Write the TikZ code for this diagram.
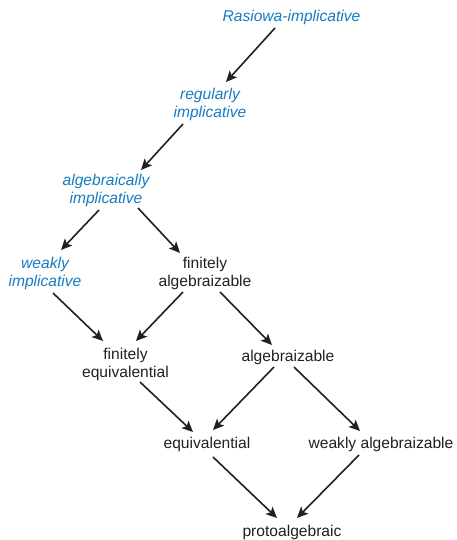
\documentclass[tikz,border=0pt]{standalone}
\usepackage{fontspec}
\setmainfont{Liberation Sans}
\usetikzlibrary{arrows.meta,calc}
\definecolor{lblue}{RGB}{20,124,190}
\definecolor{ink}{RGB}{35,31,32}
\begin{document}
\begin{tikzpicture}[x=1pt,y=-1pt,
  lbl/.style={font=\fontsize{15.6}{18}\selectfont, align=center, inner sep=2pt, text=ink},
  blu/.style={lbl, text=lblue, font=\fontsize{15.6}{18}\selectfont\itshape},
  conn/.style={draw=ink, line width=1.6pt, -{Stealth[length=11pt,width=10pt,inset=2.5pt]}}]
\useasboundingbox (0,0) rectangle (457,540);
\node[blu] (ras) at (291.5,17) {Rasiowa-implicative};
\node[blu] (reg) at (210,104) {regularly\\implicative};
\node[blu] (alg) at (106,190) {algebraically\\implicative};
\node[blu] (wim) at (45,273) {weakly\\implicative};
\node[lbl] (fal) at (205,273) {finitely\\algebraizable};
\node[lbl] (feq) at (125.5,364) {finitely\\equivalential};
\node[lbl] (alz) at (288,357) {algebraizable};
\node[lbl] (equ) at (207,444) {equivalential};
\node[lbl] (wal) at (381,444) {weakly algebraizable};
\node[lbl] (pro) at (292,532) {protoalgebraic};
\draw[conn] ($(ras)+(-16.5,11)$) -- ($(reg)+(16,-22)$);
\draw[conn] ($(reg)+(-27,20)$) -- ($(alg)+(35,-20)$);
\draw[conn] ($(alg)+(-7,20)$) -- ($(wim)+(16,-23)$);
\draw[conn] ($(alg)+(32,18)$) -- ($(fal)+(-25,-20)$);
\draw[conn] ($(wim)+(8,20)$) -- ($(feq)+(-22.5,-23)$);
\draw[conn] ($(fal)+(-22,19)$) -- ($(feq)+(10.5,-23)$);
\draw[conn] ($(fal)+(15,19)$) -- ($(alz)+(-16,-12)$);
\draw[conn] ($(feq)+(14.5,18)$) -- ($(equ)+(-14,-12)$);
\draw[conn] ($(alz)+(-14,10)$) -- ($(equ)+(6,-14)$);
\draw[conn] ($(alz)+(6,10)$) -- ($(wal)+(-21,-13)$);
\draw[conn] ($(equ)+(6,13)$) -- ($(pro)+(-15,-14)$);
\draw[conn] ($(wal)+(-22,11)$) -- ($(pro)+(5,-14)$);
\end{tikzpicture}
\end{document}
